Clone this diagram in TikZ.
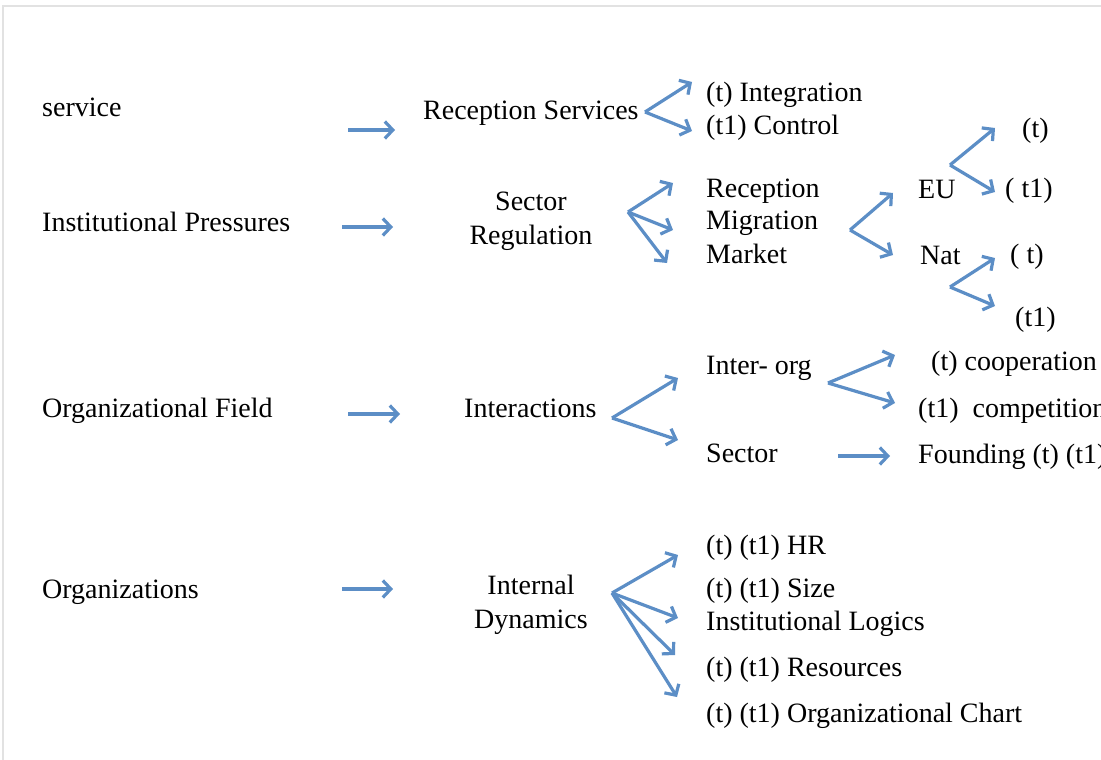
\documentclass[tikz,border=0pt]{standalone}
\usepackage{fontspec}
\setmainfont{Liberation Serif}
\usetikzlibrary{arrows.meta,positioning}
\definecolor[named]{Arrow}{RGB}{92,142,198}
\definecolor[named]{Frame}{RGB}{226,226,226}

\begin{document}
\begin{tikzpicture}
    [
    x=1pt, y=-1pt,
    lbl/.style ={
        inner sep=0,
        anchor=base west,
        font=\fontsize{28}{34}\selectfont
    },
    two/.style ={
        inner sep=0,
        anchor=center,
        align=center,
        font=\fontsize{28}{34}\selectfont
    },
    a/.style={
        -{Straight Barb[length=8pt,width=17pt]},
        draw=Arrow,
        line width=3.2pt
    }
    ]
    \useasboundingbox (0,0) rectangle (1101,760);
    \draw[Frame,line width=1.5pt] (3,760) |- (1101,6);

    % left column
    \node (lvl1)[lbl] at (42,117) {service};
    \node (lvl2)[lbl] at (42,231) {Institutional Pressures};
    \node (lvl3)[lbl] at (42,417) {Organizational Field};
    \node (lvl4)[lbl] at (42,598) {Organizations};

    % middle column
    \node (serv)[lbl] at (423,119) {Reception Services};
    \node (reg)[two] at (531,221) {Sector\\Regulation};
    \node (inter)[lbl] at (464,417) {Interactions};
    \node (dyn)[two] at (531,605) {Internal\\Dynamics};

    % service
    \node (integ)[lbl] at (706,102) {(t) Integration};
    \node (contr)[lbl] at (706,134) {(t1) Control};

    % regulation
    \node (recep)[lbl] at (706,197) {Reception};
    \node (migr)[lbl] at (706,229) {Migration};
    \node (mark)[lbl] at (706,263) {Market};
    \node (eu)[lbl] at (918,198) {EU};
    \node (nat)[lbl] at (920,264) {Nat};
    \node (eu1)[lbl] at (1022,137) {(t)};
    \node (eu2)[lbl] at (1005,197) {( t1)};
    \node (nat1)[lbl] at (1010,263) {( t)};
    \node (nat2)[lbl] at (1015,326) {(t1)};

    % interactions
    \node (org)[lbl] at (706,374) {Inter- org};
    \node (sect)[lbl] at (706,462) {Sector};
    \node (coop)[lbl] at (931,370) {(t) cooperation};
    \node (comp)[lbl] at (918,417) {(t1)\ \ competition};
    \node (found)[lbl] at (918,463) {Founding (t) (t1)};

    % internal dynamics
    \node (hr)[lbl] at (706,554) {(t) (t1) HR};
    \node (size)[lbl] at (706,597) {(t) (t1) Size};
    \node (logic)[lbl] at (706,630) {Institutional Logics};
    \node (res)[lbl] at (706,676) {(t) (t1) Resources};
    \node (chart)[lbl] at (706,722) {(t) (t1) Organizational Chart};

    % arrow points
    \coordinate (s1) at (348,130);  \coordinate (e1) at (395,130);
    \coordinate (s2) at (342,227);  \coordinate (e2) at (393,227);
    \coordinate (s3) at (348,414);  \coordinate (e3) at (400,414);
    \coordinate (s4) at (342,589);  \coordinate (e4) at (393,589);

    \coordinate (p1) at (645,112);
    \coordinate (p1a) at (692,82);  \coordinate (p1b) at (692,131);
    \coordinate (p2) at (628,212);
    \coordinate (p2a) at (673,183); \coordinate (p2b) at (673,230);
    \coordinate (p2c) at (667,263);
    \coordinate (p3) at (850,230);
    \coordinate (p3a) at (893,193); \coordinate (p3b) at (893,255);
    \coordinate (p4) at (950,165);
    \coordinate (p4a) at (995,128); \coordinate (p4b) at (995,192);
    \coordinate (p5) at (950,287);
    \coordinate (p5a) at (995,258); \coordinate (p5b) at (995,306);
    \coordinate (p6) at (612,418);
    \coordinate (p6a) at (678,378); \coordinate (p6b) at (678,440);
    \coordinate (p7) at (828,383);
    \coordinate (p7a) at (895,355); \coordinate (p7b) at (895,403);
    \coordinate (s8) at (838,456);  \coordinate (e8) at (890,456);
    \coordinate (p9) at (612,593);
    \coordinate (p9a) at (678,555); \coordinate (p9b) at (678,618);
    \coordinate (p9c) at (675,655); \coordinate (p9d) at (677,697);

    \draw[a] (s1) -- (e1);
    \draw[a] (s2) -- (e2);
    \draw[a] (s3) -- (e3);
    \draw[a] (s4) -- (e4);

    \draw[a] (p1) -- (p1a);
    \draw[a] (p1) -- (p1b);

    \draw[a] (p2) -- (p2a);
    \draw[a] (p2) -- (p2b);
    \draw[a] (p2) -- (p2c);

    \draw[a] (p3) -- (p3a);
    \draw[a] (p3) -- (p3b);
    \draw[a] (p4) -- (p4a);
    \draw[a] (p4) -- (p4b);
    \draw[a] (p5) -- (p5a);
    \draw[a] (p5) -- (p5b);

    \draw[a] (p6) -- (p6a);
    \draw[a] (p6) -- (p6b);
    \draw[a] (p7) -- (p7a);
    \draw[a] (p7) -- (p7b);
    \draw[a] (s8) -- (e8);

    \draw[a] (p9) -- (p9a);
    \draw[a] (p9) -- (p9b);
    \draw[a] (p9) -- (p9c);
    \draw[a] (p9) -- (p9d);

\end{tikzpicture}
\end{document}
